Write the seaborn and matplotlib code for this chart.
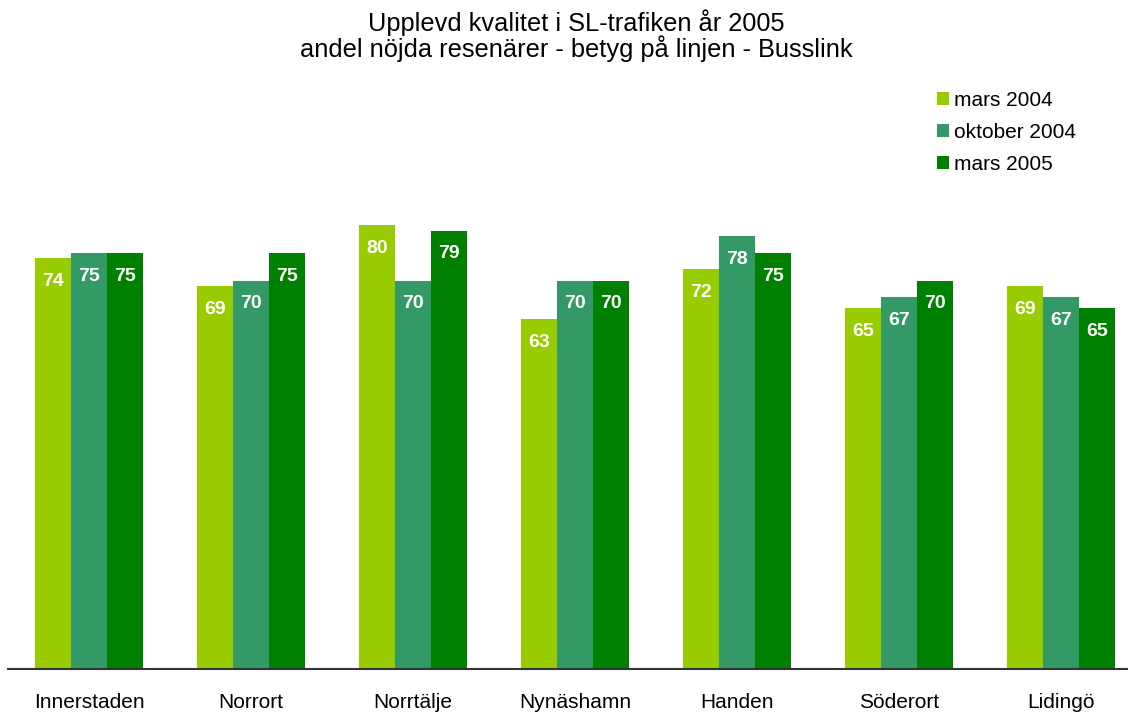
import matplotlib
matplotlib.use('Agg')
import matplotlib.pyplot as plt
import seaborn as sns
import pandas as pd
from matplotlib.patches import Patch

# data
categories = ['Innerstaden', 'Norrort', 'Norrtälje', 'Nynäshamn', 'Handen', 'Söderort', 'Lidingö']
series = ['mars 2004', 'oktober 2004', 'mars 2005']
mars_2004 = [74, 69, 80, 63, 72, 65, 69]
oktober_2004 = [75, 70, 70, 70, 78, 67, 67]
mars_2005 = [75, 75, 79, 70, 75, 70, 65]
colors = ['#99CC00', '#339966', '#008000']

df = pd.DataFrame({
    'omrade': categories * 3,
    'period': [s for s in series for _ in categories],
    'andel': mars_2004 + oktober_2004 + mars_2005,
})

sns.set_theme(style='white')
plt.rcParams['font.family'] = ['Liberation Sans', 'DejaVu Sans']
plt.rcParams['text.color'] = 'black'
plt.rcParams['xtick.color'] = 'black'

fig = plt.figure(figsize=(11.28, 7.13), dpi=100)
ax = fig.add_axes([8 / 1128, 44 / 713, 1134 / 1128, 555 / 713])

sns.barplot(data=df, x='omrade', y='andel', hue='period', palette=colors,
            width=0.667, saturation=1, linewidth=0, ax=ax, legend=False)

for cont in ax.containers:
    ax.bar_label(cont, fmt='%d', padding=-23, color='white',
                 fontsize=14, fontweight='bold')

ax.set_ylim(0, 100)
ax.set_xlim(-0.5, 6.5)
ax.set_xlabel('')
ax.set_ylabel('')
ax.set_yticks([])
ax.tick_params(axis='x', length=0, pad=17, labelsize=15, labelcolor='black')
for s in ['top', 'right', 'left']:
    ax.spines[s].set_visible(False)
ax.spines['bottom'].set_color('#333333')
ax.spines['bottom'].set_linewidth(1.5)

handles = [Patch(facecolor=c, edgecolor='none') for c in colors]
fig.legend(handles, series, loc='upper left', bbox_to_anchor=(918 / 1128, 1 - 72 / 713),
           frameon=False, fontsize=15, handlelength=0.6, handleheight=0.6,
           handletextpad=0.25, labelspacing=0.62)

fig.text(576 / 1128, 1 - 9 / 713,
         'Upplevd kvalitet i SL-trafiken år 2005\nandel nöjda resenärer - betyg på linjen - Busslink',
         ha='center', va='top', fontsize=18.3, linespacing=1.0)

fig.savefig('out.png', dpi=100)
